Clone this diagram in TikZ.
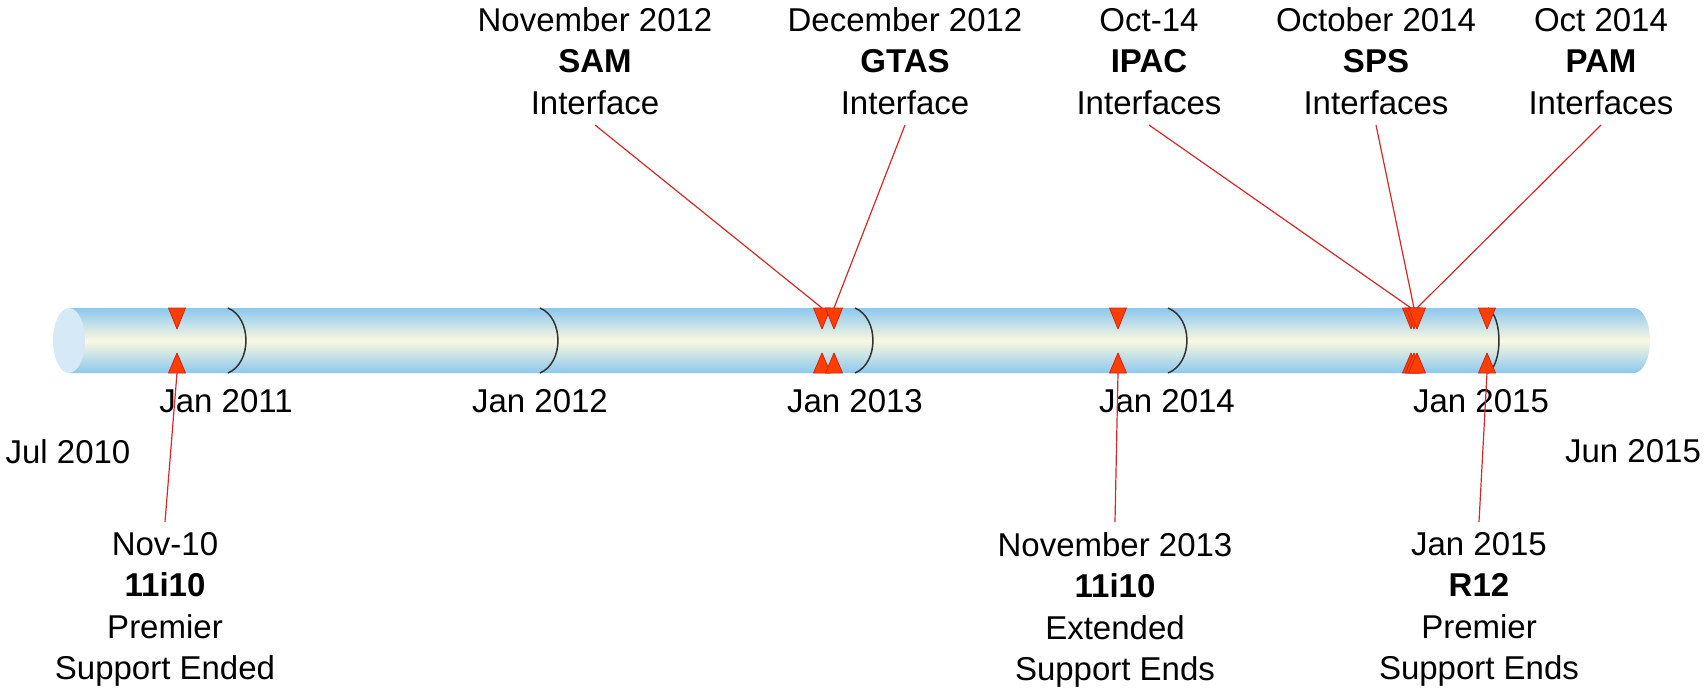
\documentclass[tikz,border=0pt]{standalone}
\usepackage{fontspec}
\setmainfont{Liberation Sans}
\definecolor{pipeblue}{RGB}{140,200,238}
\definecolor{pipecream}{RGB}{250,248,224}
\definecolor{pipeend}{RGB}{214,233,246}
\definecolor{markred}{RGB}{255,62,0}
\definecolor{markedge}{RGB}{214,34,14}
\definecolor{leadred}{RGB}{214,40,40}

\begin{document}
\begin{tikzpicture}[x=0.5pt,y=-0.5pt,
  every node/.style={font=\fontsize{16.5}{20.75}\selectfont,inner sep=0pt},
  lbl/.style={align=center,inner ysep=5pt},
  lead/.style={draw=leadred,line width=0.6pt},
  yeartick/.style={draw=black!80,line width=0.75pt},
  tri/.style={fill=markred,draw=markedge,line width=0.4pt,line join=round}]

\useasboundingbox (0,0) rectangle (1704,692);

\shade[top color=pipeblue,bottom color=pipeblue,middle color=pipecream]
  (69,308) -- (1634,308) arc[start angle=90,end angle=-90,x radius=8pt,y radius=16.25pt] -- (69,373) -- cycle;
\fill[pipeend] (69,340.5) ellipse[x radius=8pt,y radius=16.25pt];

\foreach \x/\b in {228/18,540/18,855/18,1168/19,1488/11}
  \draw[yeartick] (\x,308) .. controls ({\x+1.33*\b},318) and ({\x+1.33*\b},363) .. (\x,373);

\node(jul10) at (68,451.5) {Jul 2010};
\node(j11) at (226,401.5) {Jan 2011};
\node(j12) at (540,401.5) {Jan 2012};
\node(j13) at (855,401.5) {Jan 2013};
\node(j14) at (1167,401.5) {Jan 2014};
\node(j15) at (1481,401.5) {Jan 2015};
\node(jun15) at (1633,451.5) {Jun 2015};

\node[lbl,anchor=south](sam) at (595,125) {November 2012\\\textbf{SAM}\\Interface};
\node[lbl,anchor=south](gtas) at (905,125) {December 2012\\\textbf{GTAS}\\Interface};
\node[lbl,anchor=south](ipac) at (1149,125) {Oct-14\\\textbf{IPAC}\\Interfaces};
\node[lbl,anchor=south](sps) at (1376,125) {October 2014\\\textbf{SPS}\\Interfaces};
\node[lbl,anchor=south](pam) at (1601,125) {Oct 2014\\\textbf{PAM}\\Interfaces};
\node[lbl,anchor=north](prem) at (165,522) {Nov-10\\\textbf{11i10}\\Premier\\Support Ended};
\node[lbl,anchor=north](ext) at (1115,522) {November 2013\\\textbf{11i10}\\Extended\\Support Ends};
\node[lbl,anchor=north](r12) at (1479,522) {Jan 2015\\\textbf{R12}\\Premier\\Support Ends};

\foreach \x/\n in {177/a,822/b,834/c,1118/d,1411/e,1414/f,1417/g,1487/h}{
  \coordinate(top\n) at (\x,308);
  \coordinate(bot\n) at (\x,373);
  \filldraw[tri] (top\n) ++(-8.5,0) -- ++(17,0) -- ++(-8.5,21) -- cycle;
  \filldraw[tri] (bot\n) ++(-8.5,0) -- ++(17,0) -- ++(-8.5,-20) -- cycle;
}

\draw[lead](sam.south)--(topb);
\draw[lead](gtas.south)--(topc);
\draw[lead](ipac.south)--(tope);
\draw[lead](sps.south)--(topf);
\draw[lead](pam.south)--(topg);
\draw[lead](bota)--(prem.north);
\draw[lead](botd)--(ext.north);
\draw[lead](both)--(r12.north);
\end{tikzpicture}
\end{document}
